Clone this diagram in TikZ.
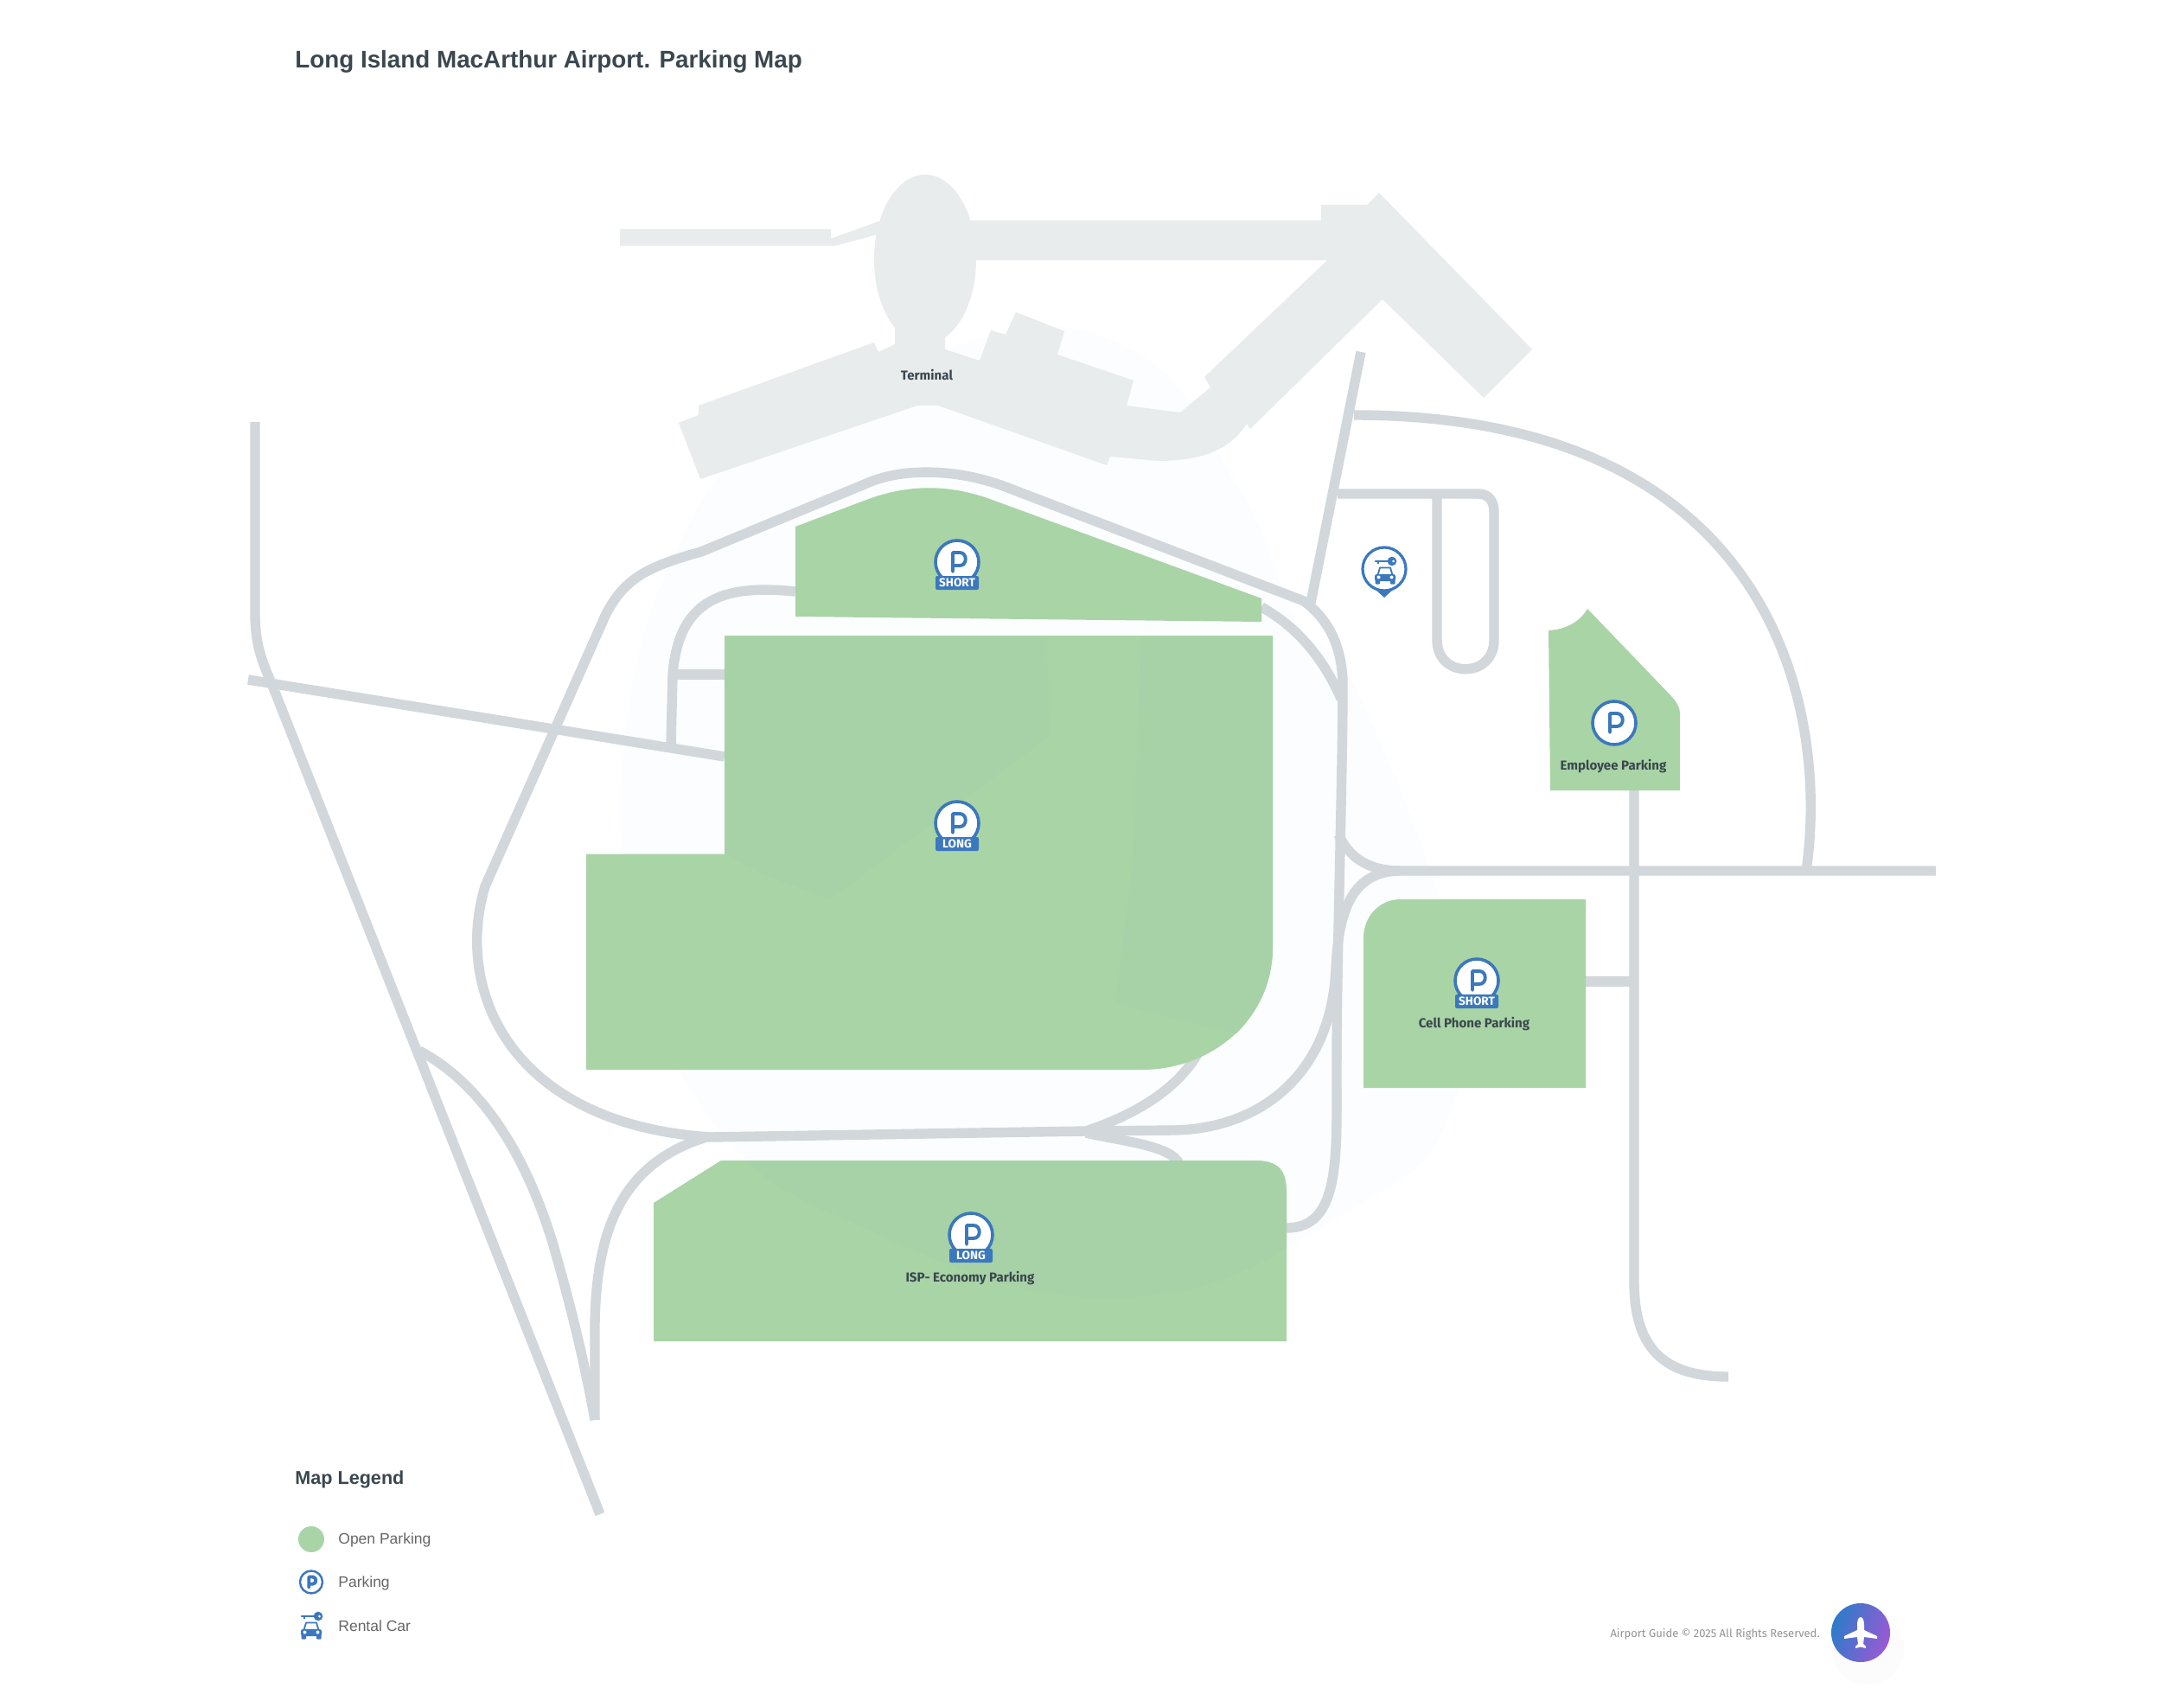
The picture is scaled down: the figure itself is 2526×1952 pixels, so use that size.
\documentclass[tikz,border=0pt]{standalone}
\usepackage{fontspec}
\setmainfont{Liberation Sans}
\newfontfamily\labfont{Fira Sans}
\usetikzlibrary{shadings}
\definecolor{roadc}{HTML}{D1D7DA}
\definecolor{termc}{HTML}{E8ECEC}
\definecolor{lotc}{HTML}{A9D4A6}
\definecolor{lotd}{HTML}{A7D2A7}
\definecolor{pblue}{HTML}{3B78BD}
\definecolor{labc}{HTML}{3A474E}
\definecolor{glow}{HTML}{FBFDFE}
\definecolor{gradA}{HTML}{1E80C8}
\definecolor{gradB}{HTML}{A855D5}
\tikzset{
  road/.style={draw=roadc,line width=5.7pt,line cap=butt,line join=round},
  lot/.style={fill=lotc},
  lotlabel/.style={font=\labfont\bfseries\fontsize{7.55}{9}\selectfont,text=labc,inner sep=0pt},
  legendtext/.style={font=\fontsize{8.75}{11}\selectfont,text=black!60,anchor=west,inner sep=0pt},
  tagtext/.style={font=\labfont\bfseries\fontsize{6.8}{8}\selectfont,text=white,inner sep=0pt}
}
\newcommand{\pglyph}{%
  \draw[pblue,line width=1.95pt,line cap=round,line join=round]
    (-5,11) -- (-5,-11) -- (3,-11) .. controls (12,-11) and (12,4) .. (3,4) -- (-5,4);}
\newcommand{\pmark}[4]{%
  \begin{scope}[shift={(#1,#2)}]
    \draw[pblue,fill=white,line width=1.8pt] (0,0) circle[radius=25];
    \pglyph
    \fill[pblue,rounded corners=1pt] (-25,16) rectangle (25,32);
    \node[tagtext] (#3) at (0,24) {#4};
  \end{scope}}
\newcommand{\carkey}{%
  \fill[pblue,rounded corners=1.2pt] (-12,-1) rectangle (12,7);
  \fill[pblue,rounded corners=.5pt] (-11.5,5) rectangle (-6,10.5);
  \fill[pblue,rounded corners=.5pt] (6,5) rectangle (11.5,10.5);
  \draw[pblue,line width=.9pt,line join=round] (-8.5,0) -- (-6,-8.5) -- (6,-8.5) -- (8.5,0);
  \fill[white] (-7.5,2.5) circle[radius=2];
  \fill[white] (7.5,2.5) circle[radius=2];
  \draw[pblue,line width=1.3pt,line cap=round] (-11,-16) -- (5,-16);
  \fill[pblue] (-9,-16) rectangle (-7,-13.5);
  \fill[pblue] (8,-16) circle[radius=5.3];
  \fill[white] (9.5,-16) circle[radius=1.5];}
\newcommand{\blobpath}{plot[smooth cycle,tension=.8] coordinates {(722,860) (790,620) (900,500) (1100,400) (1300,400) (1430,560) (1500,720) (1570,800) (1680,1100) (1680,1280) (1560,1400) (1300,1500) (1000,1420) (820,1290) (740,1080)}}
\begin{document}
\begin{tikzpicture}[x=0.5pt,y=-0.5pt]
\useasboundingbox (0,0) rectangle (2526,1952);
\fill[white] (0,0) rectangle (2526,1952);
% glow
\fill[glow] \blobpath;
% terminal
\fill[termc] (1070,300) ellipse[x radius=59,y radius=98];
\fill[termc] (717,265) -- (961,265) -- (961,276) -- (1019,255) -- (1019,270) -- (965,284.5) -- (717,284.5) -- cycle;
\fill[termc] (1123,255) -- (1528,255) -- (1528,237) -- (1581,237) -- (1595,223) -- (1772,404) -- (1716,460) -- (1599,346) -- (1446,496) -- (1442,490)
  .. controls (1420,525) and (1380,533) .. (1339,533) -- (1284,528) -- (1280,538) -- (1085,469) -- (1061,469) -- (810,554) -- (785,489) -- (808,480) -- (808,469) -- (1011,396) -- (1016,407) -- (1035,398) -- (1035,370)
  -- (1093,370) -- (1093,404) -- (1133,417) -- (1146,382) -- (1163,387) -- (1175,361) -- (1231,383) -- (1223,410) -- (1311,440) -- (1303,469) -- (1365,477) -- (1400,448) -- (1393,436) -- (1535,301) -- (1123,301) -- cycle;
% roads
\draw[road] (295,488) -- (295,709) .. controls (295,745) and (303,765) .. (314,790) -- (694,1751);
\draw[road] (287,786) -- (838,875);
\draw[road] (485,1215) .. controls (560,1255) and (610,1340) .. (640,1440) .. controls (660,1510) and (675,1570) .. (688,1642);
\draw[road] (1459,702) .. controls (1500,725) and (1530,760) .. (1551,808);
\draw[road] (1488,1420) .. controls (1550,1420) and (1546,1340) .. (1546,1240) .. controls (1546,1100) and (1553,900) .. (1553,790)
  .. controls (1552,745) and (1535,715) .. (1508,695) -- (1163,563) .. controls (1105,541) and (1040,541) .. (1000,560)
  -- (811,638) .. controls (750,655) and (722,668) .. (700,712) -- (561,1025) .. controls (525,1145) and (590,1300) .. (822,1315) -- (1256,1308)
  .. controls (1310,1290) and (1365,1260) .. (1390,1210);
\draw[road] (1256,1308) -- (1358,1307) .. controls (1460,1305) and (1540,1240) .. (1545,1120) .. controls (1548,1060) and (1560,1007) .. (1620,1007);
\draw[road] (1256,1310) .. controls (1300,1320) and (1355,1325) .. (1364,1346);
\draw[road] (1548,965) .. controls (1560,990) and (1580,1007) .. (1620,1007) -- (2239,1007);
\draw[road] (2089,1007) .. controls (2115,830) and (2060,480) .. (1566,480);
\draw[road] (1574,407) -- (1515,702);
\draw[road] (1547,571) -- (1710,571) .. controls (1722,571) and (1728,580) .. (1728,592) -- (1728,740) .. controls (1728,785) and (1662,785) .. (1662,740) -- (1662,571);
\draw[road] (1890,914) -- (1890,1482) .. controls (1890,1560) and (1925,1592) .. (1999,1592);
\draw[road] (1834,1135) -- (1890,1135);
\draw[road] (920,684) .. controls (840,676) and (785,690) .. (778,780) -- (776,862);
\draw[road] (778,780) -- (838,780);
\draw[road] (817,1315) .. controls (720,1345) and (690,1420) .. (688,1530) -- (688,1642);
% lots
\fill[lot] (920,609) -- (1002,578) .. controls (1050,560) and (1095,560) .. (1142,576) -- (1459,692) -- (1459,719) -- (920,713) -- cycle;
\fill[lot] (838,735) -- (1472,735) -- (1472,1096) .. controls (1472,1180) and (1400,1237) .. (1321,1237) -- (678,1237) -- (678,987.5) -- (838,987.5) -- cycle;
\fill[lot] (756,1391) -- (834,1342) -- (1450,1342) .. controls (1478,1342) and (1488,1352) .. (1488,1380) -- (1488,1551) -- (756,1551) -- cycle;
\fill[lot] (1577,1258) -- (1834,1258) -- (1834,1040) -- (1620,1040) .. controls (1595,1040) and (1577,1060) .. (1577,1085) -- cycle;
\fill[lot] (1791,729) .. controls (1812,728) and (1828,718) .. (1836,704) -- (1933,805) .. controls (1940,813) and (1943,818) .. (1943,826) -- (1943,914) -- (1793,914) -- cycle;
% subtle tone patches
\begin{scope}
\clip (756,1391) -- (834,1342) -- (1450,1342) .. controls (1478,1342) and (1488,1352) .. (1488,1380) -- (1488,1551) -- (756,1551) -- cycle;
\fill[lotd] \blobpath;
\end{scope}
\fill[lotd] (1320,737) -- (1472,737) -- (1472,1096) .. controls (1472,1130) and (1455,1170) .. (1430,1195) -- (1290,1160) -- (1310,1000) -- cycle;
\fill[lotd] (838,737) -- (1210,737) -- (1215,850) -- (960,1040) -- (880,1010) -- (838,987) -- cycle;
% labels and marks
\pmark{1107}{650}{tagshorta}{SHORT}
\pmark{1107}{952}{taglonga}{LONG}
\pmark{1123}{1428}{taglongb}{LONG}
\pmark{1708}{1134}{tagshortb}{SHORT}
\begin{scope}[shift={(1867,836)}]
  \draw[pblue,fill=white,line width=1.8pt] (0,0) circle[radius=25];
  \pglyph
\end{scope}
\begin{scope}[shift={(1601,658)}]
  \fill[pblue] (-11,23) -- (0,33) -- (11,23) -- cycle;
  \draw[pblue,fill=white,line width=1.6pt] (0,0) circle[radius=25];
  \begin{scope}[shift={(1,7)}]\carkey\end{scope}
\end{scope}
\node[lotlabel] (terminal) at (1072,433.5) {Terminal};
\node[lotlabel] (employee) at (1866,886) {Employee Parking};
\node[lotlabel] (cell) at (1705,1184.5) {Cell Phone Parking};
\node[lotlabel] (isp) at (1122,1478) {ISP- Economy Parking};
% title
\node[anchor=west,inner sep=0pt,font=\bfseries\fontsize{13.9}{17}\selectfont,text=labc] (title) at (341,71.5) {Long Island MacArthur Airport. Parking Map};
% legend
\node[anchor=west,inner sep=0pt,font=\bfseries\fontsize{10.8}{13}\selectfont,text=labc] (legend) at (341,1711) {Map Legend};
\fill[lotc] (360,1780) circle[radius=15];
\node[legendtext] (lega) at (391,1781) {Open Parking};
\draw[pblue,line width=1.2pt] (360,1829.5) circle[radius=13];
\begin{scope}[shift={(360,1829.5)},scale=.55]\pglyph\end{scope}
\node[legendtext] (legb) at (391,1831) {Parking};
\begin{scope}[shift={(360,1885)}]\carkey\end{scope}
\node[legendtext] (legc) at (391,1880) {Rental Car};
% footer
\node[anchor=east,inner sep=0pt,font=\labfont\fontsize{6.5}{8}\selectfont,text=black!42] (foot) at (2105,1890) {Airport Guide © 2025 All Rights Reserved.};
\fill[black!1.2] (2160,1906) circle[radius=42];
\begin{scope}
  \clip (2152,1888) circle[radius=34];
  \shade[left color=gradA,right color=gradB,shading angle=70] (2110,1846) rectangle (2194,1930);
\end{scope}
\begin{scope}[shift={(2152,1888)}]
  \fill[white] (0,-18) .. controls (3,-18) and (4,-13) .. (4,-9) -- (4,-3) -- (19,4) -- (19,7) -- (4,5) -- (3,13) -- (6,16) -- (6,18) -- (0,16.5) -- (-6,18) -- (-6,16) -- (-3,13) -- (-4,5) -- (-19,7) -- (-19,4) -- (-4,-3) -- (-4,-9) .. controls (-4,-13) and (-3,-18) .. (0,-18) -- cycle;
\end{scope}
\end{tikzpicture}
\end{document}
